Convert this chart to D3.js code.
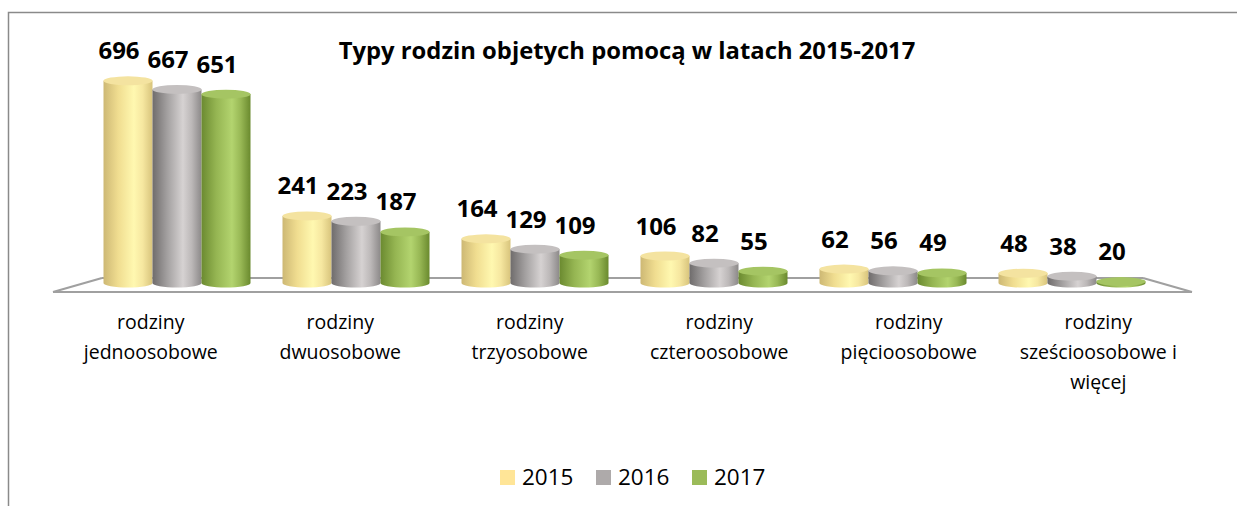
<!DOCTYPE html>
<html>
<head>
<meta charset="utf-8">
<script src="https://cdn.jsdelivr.net/npm/d3@7"></script>
<style>
  html, body { margin: 0; padding: 0; background: #fff; overflow: hidden; }
  svg { display: block; }
</style>
</head>
<body>
<div id="container"></div>
<script>
let w = 1237;
let h = 506;
let fontFam = "'Open Sans', 'Noto Sans', sans-serif";

// data
let categories = ["rodziny jednoosobowe", "rodziny dwuosobowe", "rodziny trzyosobowe",
  "rodziny czteroosobowe", "rodziny pięcioosobowe", "rodziny sześcioosobowe i więcej"];
let categoryLines = [["rodziny", "jednoosobowe"], ["rodziny", "dwuosobowe"], ["rodziny", "trzyosobowe"],
  ["rodziny", "czteroosobowe"], ["rodziny", "pięcioosobowe"], ["rodziny", "sześcioosobowe i", "więcej"]];
let years = ["2015", "2016", "2017"];
let values2015 = [696, 241, 164, 106, 62, 48];
let values2016 = [667, 223, 129, 82, 56, 38];
let values2017 = [651, 187, 109, 55, 49, 20];
let title = "Typy rodzin objetych pomocą w latach 2015-2017";

let seriesValues = [values2015, values2016, values2017];

let viz = d3.select("#container")
  .append("svg")
  .attr("width", w)
  .attr("height", h)
  .attr("viewBox", "0 0 " + w + " " + h)
  .style("background-color", "white");

// outer frame: only top and left edge are inside the picture
viz.append("path")
  .attr("d", "M8.5," + h + " V12.5 H" + w)
  .attr("fill", "none")
  .attr("stroke", "#8a8a8a")
  .attr("stroke-width", 1.5);

// colours: legend colour + gradient stops for the cylinders
let legendColors = ["#ffe597", "#aeaaaa", "#9bbb59"];
let bodyStops = [
  ["#cdb874", "#f0dd90", "#fff8b0", "#f6e7a0", "#d8c47c"],
  ["#6f6c6c", "#a3a0a0", "#d6d2d2", "#bcb8b8", "#8c8989"],
  ["#6b8a30", "#95b552", "#b3d46f", "#98b855", "#6a8a2e"]
];
let topColors = ["#f4e3a0", "#c4c0c0", "#a5c563"];

let defs = viz.append("defs");
bodyStops.forEach(function(stops, i){
  let g = defs.append("linearGradient")
    .attr("id", "grad" + i)
    .attr("x1", "0%").attr("x2", "100%").attr("y1", "0%").attr("y2", "0%");
  let offsets = [0, 0.3, 0.62, 0.8, 1];
  stops.forEach(function(c, j){
    g.append("stop").attr("offset", offsets[j]).attr("stop-color", c);
  });
});

// scales
let xScale = d3.scaleBand().domain(categories).range([87.5, 1161.5]).padding(0);
let innerWidth = 147;
let xInner = d3.scaleBand().domain(years).range([-innerWidth / 2, innerWidth / 2]).padding(0);
let yScale = d3.scaleLinear().domain([0, 696]).range([0, 206.7]);

// front edge of the floor, used for the category labels
let xFront = d3.scaleBand().domain(categories).range([56, 1193]).padding(0);

let baseY = 283;   // centre of the bottom ellipse
let topEdge0 = 283; // top edge of a zero bar
let ry = 4.5;

// floor
let floor = viz.append("g").attr("class", "floor");
floor.append("path")
  .attr("d", "M102,278 L1143,278 M53,292 L1192,292 M53,292 L102,278 M1192,292 L1143,278")
  .attr("fill", "none")
  .attr("stroke", "#a0a0a0")
  .attr("stroke-width", 2.2);

// title
viz.append("text")
  .attr("x", 627).attr("y", 59)
  .attr("text-anchor", "middle")
  .attr("font-family", fontFam)
  .attr("font-weight", "bold")
  .attr("font-size", 23.8)
  .attr("fill", "#000")
  .text(title);

// bars as cylinders
let bars = [];
categories.forEach(function(c, i){
  years.forEach(function(y, k){
    bars.push({cat: c, year: y, k: k, value: seriesValues[k][i]});
  });
});

function barGeom(d){
  let cx = xScale(d.cat) + xScale.bandwidth() / 2 + xInner(d.year) + xInner.bandwidth() / 2;
  let bw = xInner.bandwidth();
  let topEdge = topEdge0 - yScale(d.value);
  let yt = Math.min(topEdge + ry, baseY);
  return {cx: cx, x0: cx - bw / 2, x1: cx + bw / 2, rx: bw / 2, yt: yt, topEdge: topEdge};
}

let vizGroup = viz.append("g").attr("class", "vizgroup");

let barGroups = vizGroup.selectAll(".datagroup").data(bars).enter()
  .append("g")
  .attr("class", "datagroup");

barGroups.append("path")
  .attr("d", function(d){
    let g = barGeom(d);
    return "M" + g.x0 + "," + g.yt + " V" + baseY +
      " A" + g.rx + "," + ry + " 0 0 0 " + g.x1 + "," + baseY +
      " V" + g.yt + " Z";
  })
  .attr("fill", function(d){ return "url(#grad" + d.k + ")"; });

barGroups.append("ellipse")
  .attr("cx", function(d){ return barGeom(d).cx; })
  .attr("cy", function(d){ return barGeom(d).yt; })
  .attr("rx", function(d){ return barGeom(d).rx; })
  .attr("ry", ry)
  .attr("fill", function(d){ return topColors[d.k]; });

// value labels
bars.forEach(function(d){
  let g = barGeom(d);
  viz.append("text")
    .attr("x", g.cx - 9)
    .attr("y", g.topEdge - 17)
    .attr("text-anchor", "middle")
    .attr("font-family", fontFam)
    .attr("font-weight", "bold")
    .attr("font-size", 24)
    .attr("fill", "#000")
    .text(d.value);
});

// category labels, one text per line
categories.forEach(function(c, i){
  let cx = xFront(c) + xFront.bandwidth() / 2;
  categoryLines[i].forEach(function(line, j){
    viz.append("text")
      .attr("x", cx)
      .attr("y", 329 + j * 30)
      .attr("text-anchor", "middle")
      .attr("font-family", fontFam)
      .attr("font-size", 19.5)
      .attr("fill", "#000")
      .text(line);
  });
});

// legend
let legendX = d3.scalePoint().domain(years).range([500, 692]);
years.forEach(function(y, i){
  viz.append("rect")
    .attr("x", legendX(y)).attr("y", 470)
    .attr("width", 15).attr("height", 15)
    .attr("fill", legendColors[i]);
  viz.append("text")
    .attr("x", legendX(y) + 22).attr("y", 485)
    .attr("font-family", fontFam)
    .attr("font-size", 22.5)
    .attr("fill", "#000")
    .text(y);
});
</script>
</body>
</html>
